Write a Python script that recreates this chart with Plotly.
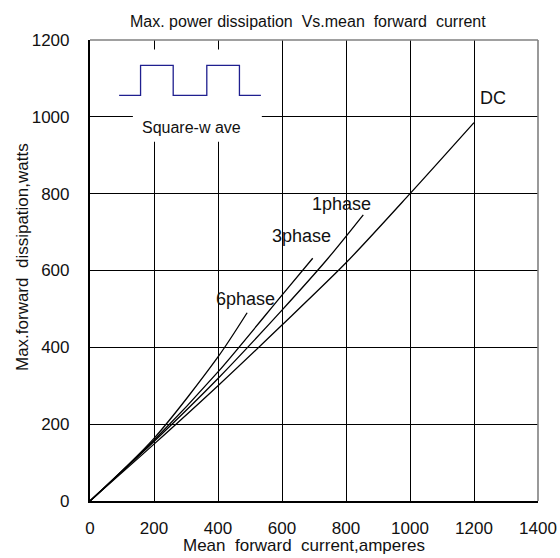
import plotly.graph_objects as go

# ---- data ----
dc_current = [0, 200, 400, 600, 800, 1000, 1200]
dc_power = [0, 148, 300, 458, 620, 800, 985]

one_phase_current = [0, 200, 400, 600, 740, 854]
one_phase_power = [0, 155, 319, 497, 628, 745]

three_phase_current = [0, 200, 400, 600, 696]
three_phase_power = [0, 158, 336, 536, 632]

six_phase_current = [0, 200, 400, 491]
six_phase_power = [0, 163, 375, 490]

# square-wave pictogram in the inset (x in amperes, y in watts)
wave_x = [91, 158, 158, 260, 260, 365, 365, 467, 467, 534]
wave_y = [1056, 1056, 1134, 1134, 1056, 1056, 1134, 1134, 1056, 1056]

x_ticks = [0, 200, 400, 600, 800, 1000, 1200, 1400]
y_ticks = [0, 200, 400, 600, 800, 1000, 1200]

series_names = ["DC", "1phase", "3phase", "6phase"]

FONT = "Liberation Sans, Arial, sans-serif"

fig = go.Figure()

# white box hiding the grid behind the inset
fig.add_shape(type="rect", xref="x", yref="y", x0=134, x1=537, y0=935, y1=1175,
              fillcolor="white", line=dict(width=0), layer="between")

for cx, cy, name in [(dc_current, dc_power, series_names[0]),
                     (one_phase_current, one_phase_power, series_names[1]),
                     (three_phase_current, three_phase_power, series_names[2]),
                     (six_phase_current, six_phase_power, series_names[3])]:
    fig.add_trace(go.Scatter(x=cx, y=cy, mode="lines", name=name,
                             line=dict(color="black", width=1.3, shape="spline", smoothing=0.8),
                             showlegend=False, hoverinfo="x+y+name"))

fig.add_trace(go.Scatter(x=wave_x, y=wave_y, mode="lines", showlegend=False,
                         line=dict(color="#1f1f8f", width=1.3), hoverinfo="skip"))

label_font = dict(family=FONT, size=18, color="#111111")
fig.add_annotation(x=1259, y=1050, text=series_names[0], showarrow=False, font=label_font)
fig.add_annotation(x=786, y=774, text=series_names[1], showarrow=False, font=label_font)
fig.add_annotation(x=662, y=689, text=series_names[2], showarrow=False, font=label_font)
fig.add_annotation(x=487, y=526, text=series_names[3], showarrow=False, font=label_font)
fig.add_annotation(x=318, y=971, text="Square-w ave", showarrow=False,
                   font=dict(family=FONT, size=16, color="#111111"))

# title and axis titles
fig.add_annotation(xref="paper", yref="paper", x=0.487, y=1.041, yanchor="middle",
                   text="Max. power dissipation\u00a0 Vs.mean\u00a0 forward\u00a0 current",
                   showarrow=False, font=dict(family=FONT, size=16, color="#111111"))
fig.add_annotation(xref="paper", yref="paper", x=0.4766, y=-0.096, yanchor="middle",
                   text="Mean\u00a0 forward\u00a0 current,amperes",
                   showarrow=False, font=dict(family=FONT, size=17, color="#111111"))
fig.add_annotation(xref="paper", yref="paper", x=-0.152, y=0.529, yanchor="middle",
                   xanchor="center", textangle=-90,
                   text="Max.forward\u00a0 dissipation,watts",
                   showarrow=False, font=dict(family=FONT, size=17, color="#111111"))

# gray top / right frame
fig.add_shape(type="line", xref="x domain", yref="y domain", x0=0, x1=1, y0=1, y1=1,
              line=dict(color="#808080", width=1.6), layer="above")
fig.add_shape(type="line", xref="x domain", yref="y domain", x0=1, x1=1, y0=0, y1=1,
              line=dict(color="#808080", width=1.6), layer="above")

fig.update_xaxes(range=[0, 1400], tickvals=x_ticks, ticktext=[str(v) for v in x_ticks],
                 showgrid=True, gridcolor="black", gridwidth=1.2,
                 showline=True, linecolor="black", linewidth=2.2, zeroline=False,
                 ticks="", ticklabelstandoff=10, automargin=False,
                 ticklabeloverflow="allow",
                 tickfont=dict(family=FONT, size=17, color="#111111"), fixedrange=True)
fig.update_yaxes(range=[0, 1200], tickvals=y_ticks, ticktext=[str(v) for v in y_ticks],
                 showgrid=True, gridcolor="black", gridwidth=1.2,
                 showline=True, linecolor="black", linewidth=2.2, zeroline=False,
                 ticks="", ticklabelstandoff=15, automargin=False,
                 ticklabeloverflow="allow",
                 tickfont=dict(family=FONT, size=17, color="#111111"), fixedrange=True)

fig.update_layout(width=560, height=558, autosize=False,
                  margin=dict(l=90, r=22, t=40, b=57, autoexpand=False),
                  plot_bgcolor="white", paper_bgcolor="white", showlegend=False)

# remove the default page margin so the figure sits at the window's top-left corner
fig.write_html("out.html",
               config={"responsive": False, "displayModeBar": False},
               post_script="document.body.style.margin='0';document.body.style.overflow='hidden';")
